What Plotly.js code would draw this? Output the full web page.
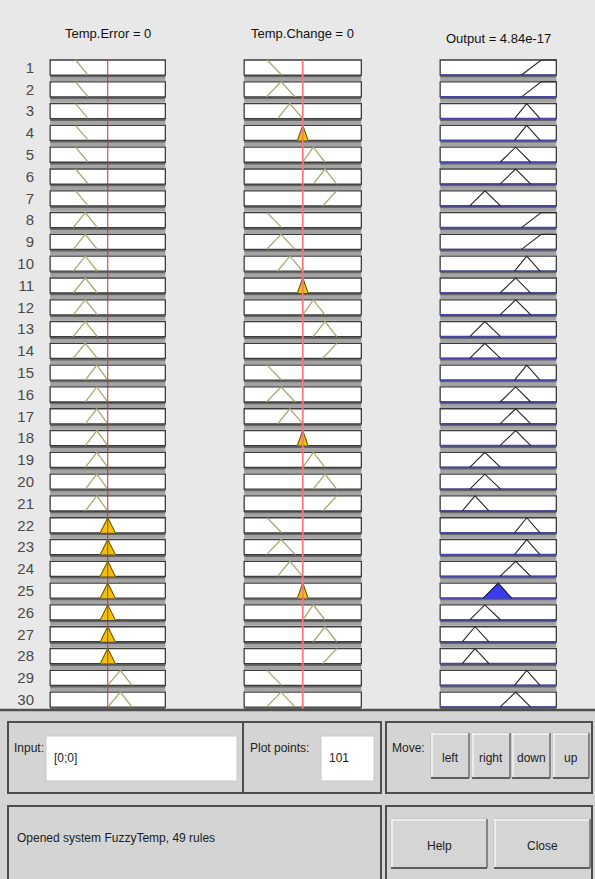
<!DOCTYPE html>
<html><head><meta charset="utf-8">
<script src="https://cdn.plot.ly/plotly-3.0.1.min.js"></script>
<style>html,body{margin:0;padding:0;background:#e8e8e8;}#chart{width:595px;height:879px;}</style>
</head><body><div id="chart"></div>
<script>
// ---------------- data ----------------
const ruleNumbers = [1,2,3,4,5,6,7,8,9,10,11,12,13,14,15,16,17,18,19,20,21,22,23,24,25,26,27,28,29,30];
const errorMfOfRule  = [1,1,1,1,1,1,1, 2,2,2,2,2,2,2, 3,3,3,3,3,3,3, 4,4,4,4,4,4,4, 5,5];
const changeMfOfRule = [1,2,3,4,5,6,7, 1,2,3,4,5,6,7, 1,2,3,4,5,6,7, 1,2,3,4,5,6,7, 1,2];
const outputMfOfRule = [7,7,6,6,5,5,3, 7,7,6,5,5,3,3, 6,5,5,5,3,3,2, 6,6,5,4,3,2,2, 6,5];
// membership functions: [type, a, b, c] on a normalised [-1,1] range
const errorMfs = [['z',-0.56,-0.34],['t',-0.60,-0.39,-0.18],['t',-0.39,-0.19,0],['t',-0.13,0,0.13],['t',0,0.22,0.42],['t',0.19,0.40,0.60],['s',0.36,0.58]];
const changeMfs = [['z',-0.61,-0.36],['t',-0.62,-0.37,-0.13],['t',-0.43,-0.22,0],['t',-0.09,0,0.09],['t',0,0.18,0.38],['t',0.18,0.38,0.58],['s',0.34,0.58]];
const outputMfs = [['z',-0.74,-0.40],['t',-0.62,-0.40,-0.16],['t',-0.49,-0.23,0.04],['t',-0.26,0,0.23],['t',0.03,0.30,0.56],['t',0.28,0.49,0.72],['s',0.40,0.74]];
const errorInput = 0;
const changeInput = 0;
const outputValue = 4.84e-17;
const titles = ['Temp.Error = 0','Temp.Change = 0','Output = 4.84e-17'];

// ---------------- helpers ----------------
const W = 595, HGT = 879;
const H = 0.69;              // box height in rule units
const FONT = 'Liberation Sans Narrow, Liberation Sans, Arial, sans-serif';
const px = y => 1 - y / HGT;
const pxX = x => x / W;

function mu(mf, x){
  const [t,a,b,c] = mf;
  if (t === 'z') return x <= a ? 1 : x >= b ? 0 : (b - x) / (b - a);
  if (t === 's') return x <= a ? 0 : x >= b ? 1 : (x - a) / (b - a);
  if (x <= a || x >= c) return 0;
  return x <= b ? (x - a) / (b - a) : (c - x) / (c - b);
}
function poly(mf, full){
  const [t,a,b,c] = mf;
  if (t === 'z') return full ? [[-1,1],[a,1],[b,0]] : [[a,1],[b,0]];
  if (t === 's') return full ? [[a,0],[b,1],[1,1]] : [[a,0],[b,1]];
  return [[a,0],[b,1],[c,0]];
}
function addPoly(xs, ys, pts, r, scale){
  pts.forEach(p => { xs.push(p[0]); ys.push(-r + p[1] * H * (scale === undefined ? 1 : scale)); });
  xs.push(null); ys.push(null);
}

const traces = [];
const shapes = [];
const annotations = [];
const cols = [
  {ax:'x',  mfs:errorMfs,  idx:errorMfOfRule,  input:errorInput},
  {ax:'x2', mfs:changeMfs, idx:changeMfOfRule, input:changeInput},
  {ax:'x3', mfs:outputMfs, idx:outputMfOfRule, input:null}
];

// boxes
cols.forEach(c => {
  ruleNumbers.forEach(r => {
    shapes.push({type:'rect', xref:c.ax, yref:'y', x0:-1, x1:1, y0:-r-0.27, y1:-r-0.11, fillcolor:'#a4a4a4', line:{width:0}, layer:'below'});
    shapes.push({type:'rect', xref:c.ax, yref:'y', x0:-1, x1:1, y0:-r-0.11, y1:-r, fillcolor:'#666666', line:{width:0}, layer:'below'});
    shapes.push({type:'rect', xref:c.ax, yref:'y', x0:-1, x1:1, y0:-r, y1:-r+H, fillcolor:'#ffffff', line:{color:'#3c3c3c', width:1.3}, layer:'below'});
  });
});

// input columns
[cols[0], cols[1]].forEach((c, k) => {
  const lx = [], ly = [], fx = [], fy = [];
  ruleNumbers.forEach((r, i) => {
    const mf = c.mfs[c.idx[i] - 1];
    addPoly(lx, ly, poly(mf, false), r);
    if (mu(mf, c.input) > 0) addPoly(fx, fy, poly(mf, true), r);
  });
  traces.push({type:'scatter', mode:'lines', xaxis:c.ax, yaxis:'y', x:lx, y:ly, line:{color:'#a9a874', width:1.3}, hoverinfo:'skip'});
  traces.push({type:'scatter', mode:'lines', xaxis:c.ax, yaxis:'y', x:fx, y:fy, fill:'toself', fillcolor:'#f2c100', line:{color:'#6a5200', width:1}, hoverinfo:'skip'});
  traces.push({type:'scatter', mode:'lines', xaxis:c.ax, yaxis:'y', x:[c.input, c.input], y:[-1 + H, -30.3],
    line:{color: k === 0 ? '#b23a3a' : '#f07a7a', width: k === 0 ? 1 : 1.8}, hoverinfo:'skip'});
});

// output column
{
  const c = cols[2];
  const bx = [], by = [], lx = [], ly = [], fx = [], fy = [];
  ruleNumbers.forEach((r, i) => {
    const mf = c.mfs[c.idx[i] - 1];
    const w = Math.min(mu(errorMfs[errorMfOfRule[i]-1], errorInput), mu(changeMfs[changeMfOfRule[i]-1], changeInput));
    addPoly(bx, by, [[-1,0],[1,0]], r);
    addPoly(lx, ly, poly(mf, true), r);
    if (w > 0) addPoly(fx, fy, poly(mf, true), r, w);
  });
  traces.push({type:'scatter', mode:'lines', xaxis:'x3', yaxis:'y', x:bx, y:by, line:{color:'#4646a8', width:1.6}, hoverinfo:'skip'});
  traces.push({type:'scatter', mode:'lines', xaxis:'x3', yaxis:'y', x:fx, y:fy, fill:'toself', fillcolor:'#3b3bf0', line:{color:'#2a2ab0', width:1}, hoverinfo:'skip'});
  traces.push({type:'scatter', mode:'lines', xaxis:'x3', yaxis:'y', x:lx, y:ly, line:{color:'#262626', width:1.1}, hoverinfo:'skip'});
}

// titles
const titleY = [33, 33, 38];
['x','x2','x3'].forEach((ax, k) => {
  annotations.push({text:titles[k], xref:ax, x:0, yref:'paper', y:px(titleY[k]), xanchor:'center', yanchor:'middle', showarrow:false,
    font:{family:FONT, size:13, color:'#111111'}});
});

// ---------------- bottom panel (UI chrome) ----------------
function rectPx(x0, y0, x1, y1, fill, lineColor, lw){
  shapes.push({type:'rect', xref:'paper', yref:'paper', x0:pxX(x0), x1:pxX(x1), y0:px(y1), y1:px(y0),
    fillcolor:fill, line:{color:lineColor || 'rgba(0,0,0,0)', width: lw || 0}, layer:'above'});
}
function linePx(x0, y0, x1, y1, color, lw){
  shapes.push({type:'line', xref:'paper', yref:'paper', x0:pxX(x0), x1:pxX(x1), y0:px(y0), y1:px(y1), line:{color:color, width:lw}, layer:'above'});
}
function textPx(t, x, y, anchor, size){
  annotations.push({text:t, xref:'paper', yref:'paper', x:pxX(x), y:px(y), xanchor:anchor, yanchor:'middle', showarrow:false,
    font:{family:FONT, size:size || 12, color:'#1c1c1c'}});
}
function button(x0, y0, x1, y1, label, size){
  rectPx(x0, y0, x1, y1, '#d5d5d5', '#bdbdbd', 1);
  linePx(x0, y0 + 1, x1, y0 + 1, '#f4f4f4', 1.5);
  linePx(x0 + 1, y0, x0 + 1, y1, '#f4f4f4', 1.5);
  linePx(x0, y1, x1, y1, '#5e5e5e', 2);
  linePx(x1, y0, x1, y1, '#6e6e6e', 1.5);
  textPx(label, (x0 + x1) / 2, (y0 + y1) / 2 + 2, 'center', size || 12);
}
rectPx(0, 710, W, HGT, '#d4d4d4');
linePx(0, 710, W, 710, '#505050', 2.5);
rectPx(8, 722, 243, 793, 'rgba(0,0,0,0)', '#4e4e4e', 2);
rectPx(243, 722, 381, 793, 'rgba(0,0,0,0)', '#4e4e4e', 2);
rectPx(386, 722, 592, 793, 'rgba(0,0,0,0)', '#4e4e4e', 2);
rectPx(8, 806, 381, 884, 'rgba(0,0,0,0)', '#4e4e4e', 2);
rectPx(386, 806, 592, 884, 'rgba(0,0,0,0)', '#4e4e4e', 2);
rectPx(46, 736, 237, 781, '#ffffff', '#c8c8c8', 1);
rectPx(321, 736, 374, 781, '#ffffff', '#c8c8c8', 1);
textPx('Input:', 12, 748, 'left', 12);
textPx('[0;0]', 52, 758, 'left', 12);
textPx('Plot points:', 248, 748, 'left', 12);
textPx('101', 327, 758, 'left', 12);
textPx('Move:', 390, 748, 'left', 12);
button(431, 733, 469, 778, 'left');
button(472, 733, 510, 778, 'right');
button(512, 733, 550, 778, 'down');
button(553, 733, 589, 778, 'up');
button(391, 819, 487, 868, 'Help', 12);
button(494, 819, 590, 868, 'Close', 12);
textPx('Opened system FuzzyTemp, 49 rules', 15, 838, 'left', 12);

// ---------------- layout ----------------
const xr = [-1.02, 1.02];
const xBase = {range:xr, showgrid:false, zeroline:false, showline:false, showticklabels:false, ticks:'', fixedrange:true, anchor:'y'};
const layout = {
  width:W, height:HGT, margin:{l:0, r:0, t:0, b:0},
  paper_bgcolor:'#e8e8e8', plot_bgcolor:'rgba(0,0,0,0)', showlegend:false,
  xaxis:Object.assign({}, xBase, {domain:[49/W, 166.5/W]}),
  xaxis2:Object.assign({}, xBase, {domain:[243/W, 362.5/W]}),
  xaxis3:Object.assign({}, xBase, {domain:[439/W, 557.5/W]}),
  yaxis:{domain:[px(710), px(57)], range:[-30.13, -0.172], anchor:'x', showgrid:false, zeroline:false, showline:false,
    tickmode:'array', tickvals:ruleNumbers.map(r => -r + H / 2), ticktext:ruleNumbers.map(String), ticks:'',
    ticklabelstandoff:14, tickfont:{family:FONT, size:15, color:'#4a4a4a'}, fixedrange:true},
  shapes:shapes, annotations:annotations
};
Plotly.newPlot('chart', traces, layout, {staticPlot:true, displayModeBar:false});
</script></body></html>
